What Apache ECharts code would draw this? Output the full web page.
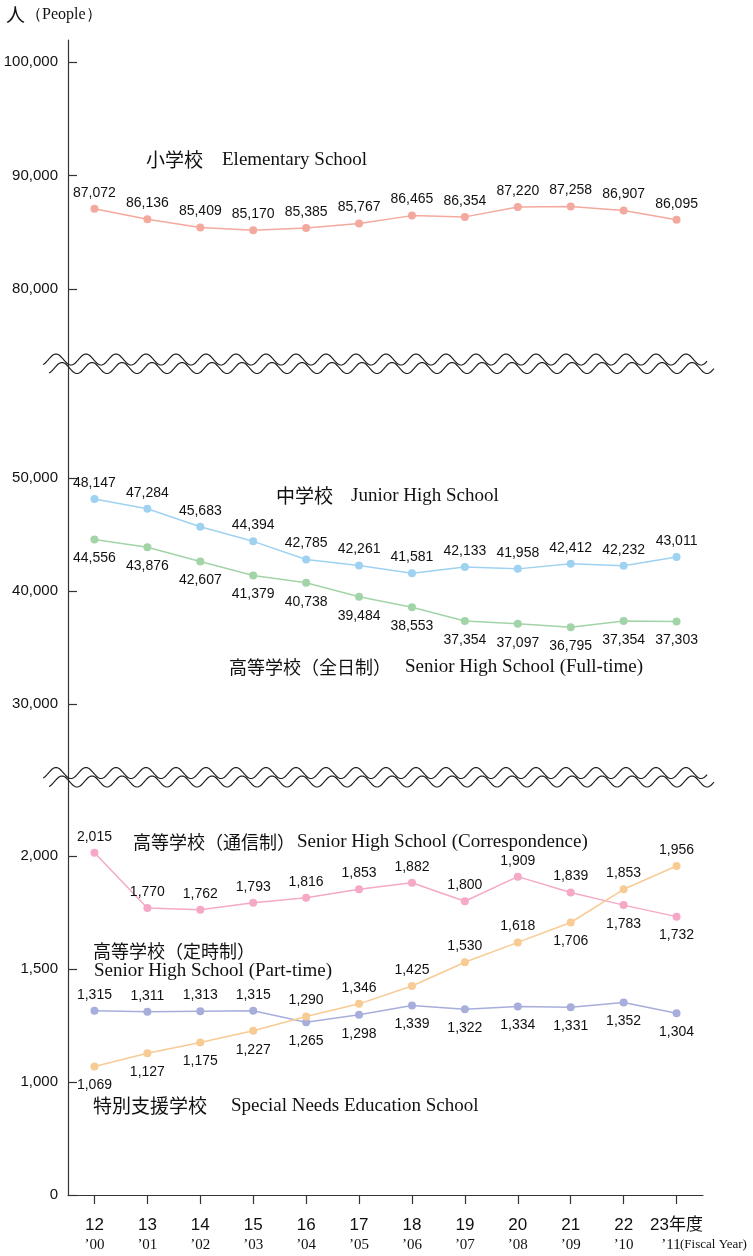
<!DOCTYPE html>
<html><head><meta charset="utf-8">
<script src="https://cdn.jsdelivr.net/npm/echarts@6/dist/echarts.min.js"></script>
<style>html,body{margin:0;padding:0;background:#fff}#c{width:753px;height:1256px}</style>
</head><body><div id="c"></div>
<script>
// ---- data ----
const categories = ['12','13','14','15','16','17','18','19','20','21','22','23年度'];
const westernYears = ['’00','’01','’02','’03','’04','’05','’06','’07','’08','’09','’10','’11'];
const elementary = [87072,86136,85409,85170,85385,85767,86465,86354,87220,87258,86907,86095];
const juniorHigh = [48147,47284,45683,44394,42785,42261,41581,42133,41958,42412,42232,43011];
const seniorFullTime = [44556,43876,42607,41379,40738,39484,38553,37354,37097,36795,37354,37303];
const seniorCorrespondence = [2015,1770,1762,1793,1816,1853,1882,1800,1909,1839,1783,1732];
const seniorPartTime = [1315,1311,1313,1315,1265,1298,1339,1322,1334,1331,1352,1304];
const specialNeeds = [1069,1127,1175,1227,1290,1346,1425,1530,1618,1706,1853,1956];
const topTicks = [80000,90000,100000];
const midTicks = [30000,40000,50000];
const lowTicks = [500,1000,1500,2000];      // lowest tick drawn as "0" (broken scale)
const lowTickLabels = ['0','1,000','1,500','2,000'];

// ---- styles ----
const SANS = "'Liberation Sans','Noto Sans CJK JP',sans-serif";
const SERIF = "'Liberation Serif','DejaVu Serif',serif";
const CJK = "'Noto Sans CJK JP',sans-serif";
const AX = '#333';
const T='top', B='bottom';
const sides = {
  elem: Array(12).fill(T),
  jr: Array(12).fill(T),
  full: Array(12).fill(B),
  corr: [T,T,T,T,T,T,T,T,T,T,B,B],
  part: [T,T,T,T,B,B,B,B,B,B,B,B],
  spec: [B,B,B,B,T,T,T,T,T,B,T,T]
};
const fmt = v => String(v).replace(/\B(?=(\d{3})+(?!\d))/g, ',');

const GL = 68, GR = 50;
const gbase = {left:GL, right:GR, containLabel:false, outerBoundsMode:'none'};
const grids = [
  Object.assign({top:40, height:324}, gbase),
  Object.assign({top:364, height:413}, gbase),
  Object.assign({top:777, height:418}, gbase)
];
function xAx(i, show){
  return {type:'category', gridIndex:i, data:categories, boundaryGap:true, show:show,
    axisLine:{show:show, lineStyle:{color:AX, width:1.2}},
    axisTick:{show:show, alignWithLabel:true, length:9, lineStyle:{color:AX, width:1.2}},
    axisLabel:{show:show, margin:20, interval:0,
      formatter:(v,idx)=> idx===11 ? '{a|'+v+'}\n{c|'+westernYears[idx]+'}' : '{a|'+v+'}\n{b|'+westernYears[idx]+'}',
      rich:{
        a:{fontFamily:SANS, fontSize:17, color:'#111', lineHeight:20},
        b:{fontFamily:SERIF, fontSize:15, color:'#111', lineHeight:20},
        c:{fontFamily:SERIF, fontSize:15, color:'#111', lineHeight:20, padding:[0,11,0,0]}
      }},
    splitLine:{show:false}};
}
function yAx(i, min, max, ticks, labels){
  return {type:'value', gridIndex:i, min:min, max:max,
    axisLine:{show:true, lineStyle:{color:AX, width:1.2}},
    axisTick:{show:true, inside:true, length:9, customValues:ticks, lineStyle:{color:AX, width:1.2}},
    axisLabel:{show:true, margin:10, customValues:ticks, fontFamily:SANS, fontSize:15, color:'#111',
      formatter:v=> labels ? labels[ticks.indexOf(v)] : fmt(v)},
    splitLine:{show:false}};
}
function ser(i, vals, color, sd){
  return {type:'line', xAxisIndex:i, yAxisIndex:i, symbol:'circle', symbolSize:8,
    lineStyle:{color:color, width:1.5}, itemStyle:{color:color},
    label:{show:true, fontFamily:SANS, fontSize:14, color:'#111', formatter:p=>fmt(p.value)},
    data: vals.map((v,k)=>({value:v, label:{position:sd[k], distance: sd[k]===T?5:8}})),
    animation:false, z:3};
}
function wave(cy, x0, x1, phase){
  const pts=[];
  for(let x=x0; x<=x1; x+=1){ pts.push([x, cy - 5.5*Math.sin(2*Math.PI*(x-phase)/30)]); }
  return {type:'polyline', silent:true, shape:{points:pts}, style:{stroke:'#222', lineWidth:1.2, fill:null}, z:10};
}
function txt(x, y, text, font){
  return {type:'text', x:x, y:y, silent:true, style:{text:text, font:font, fill:'#111', verticalAlign:'middle', align:'left'}, z:10};
}
const JP = '18px '+CJK, EN = '19px '+SERIF;

const option = {
  animation:false,
  backgroundColor:'#fff',
  grid: grids,
  xAxis:[xAx(0,false), xAx(1,false), xAx(2,true)],
  yAxis:[
    yAx(0, 73392, 101938, topTicks),
    yAx(1, 23540, 60088, midTicks),
    yAx(2, 500, 2350, lowTicks, lowTickLabels)
  ],
  series:[
    ser(0, elementary, '#f4a99e', sides.elem),
    ser(1, juniorHigh, '#9fd2f1', sides.jr),
    ser(1, seniorFullTime, '#a2d4a7', sides.full),
    ser(2, seniorCorrespondence, '#f5a9c6', sides.corr),
    ser(2, seniorPartTime, '#a7aedb', sides.part),
    ser(2, specialNeeds, '#f8cb94', sides.spec)
  ],
  graphic:[
    wave(359.5, 43, 707, 48.5), wave(368, 49, 714, 54.5),
    wave(773, 43, 707, 48.5), wave(781.5, 49, 714, 54.5),
    txt(6, 15, '人', '19px '+CJK), txt(26, 15, '（People）', '16px '+SERIF),
    txt(146, 160, '小学校', '19px '+CJK), txt(222, 160, 'Elementary School', EN),
    txt(276, 496, '中学校', '19px '+CJK), txt(351, 496, 'Junior High School', EN),
    txt(229, 667, '高等学校（全日制）', JP), txt(405, 667, 'Senior High School (Full-time)', EN),
    txt(133, 842, '高等学校（通信制）', JP), txt(297, 842, 'Senior High School (Correspondence)', EN),
    txt(93, 951, '高等学校（定時制）', JP), txt(94, 971, 'Senior High School (Part-time)', EN),
    txt(93, 1106, '特別支援学校', '19px '+CJK), txt(231, 1106, 'Special Needs Education School', EN),
    txt(680, 1245, '(Fiscal Year)', '13px '+SERIF)
  ]
};
const chart = echarts.init(document.getElementById('c'), null, {renderer:'canvas'});
chart.setOption(option);
</script>
</body></html>
